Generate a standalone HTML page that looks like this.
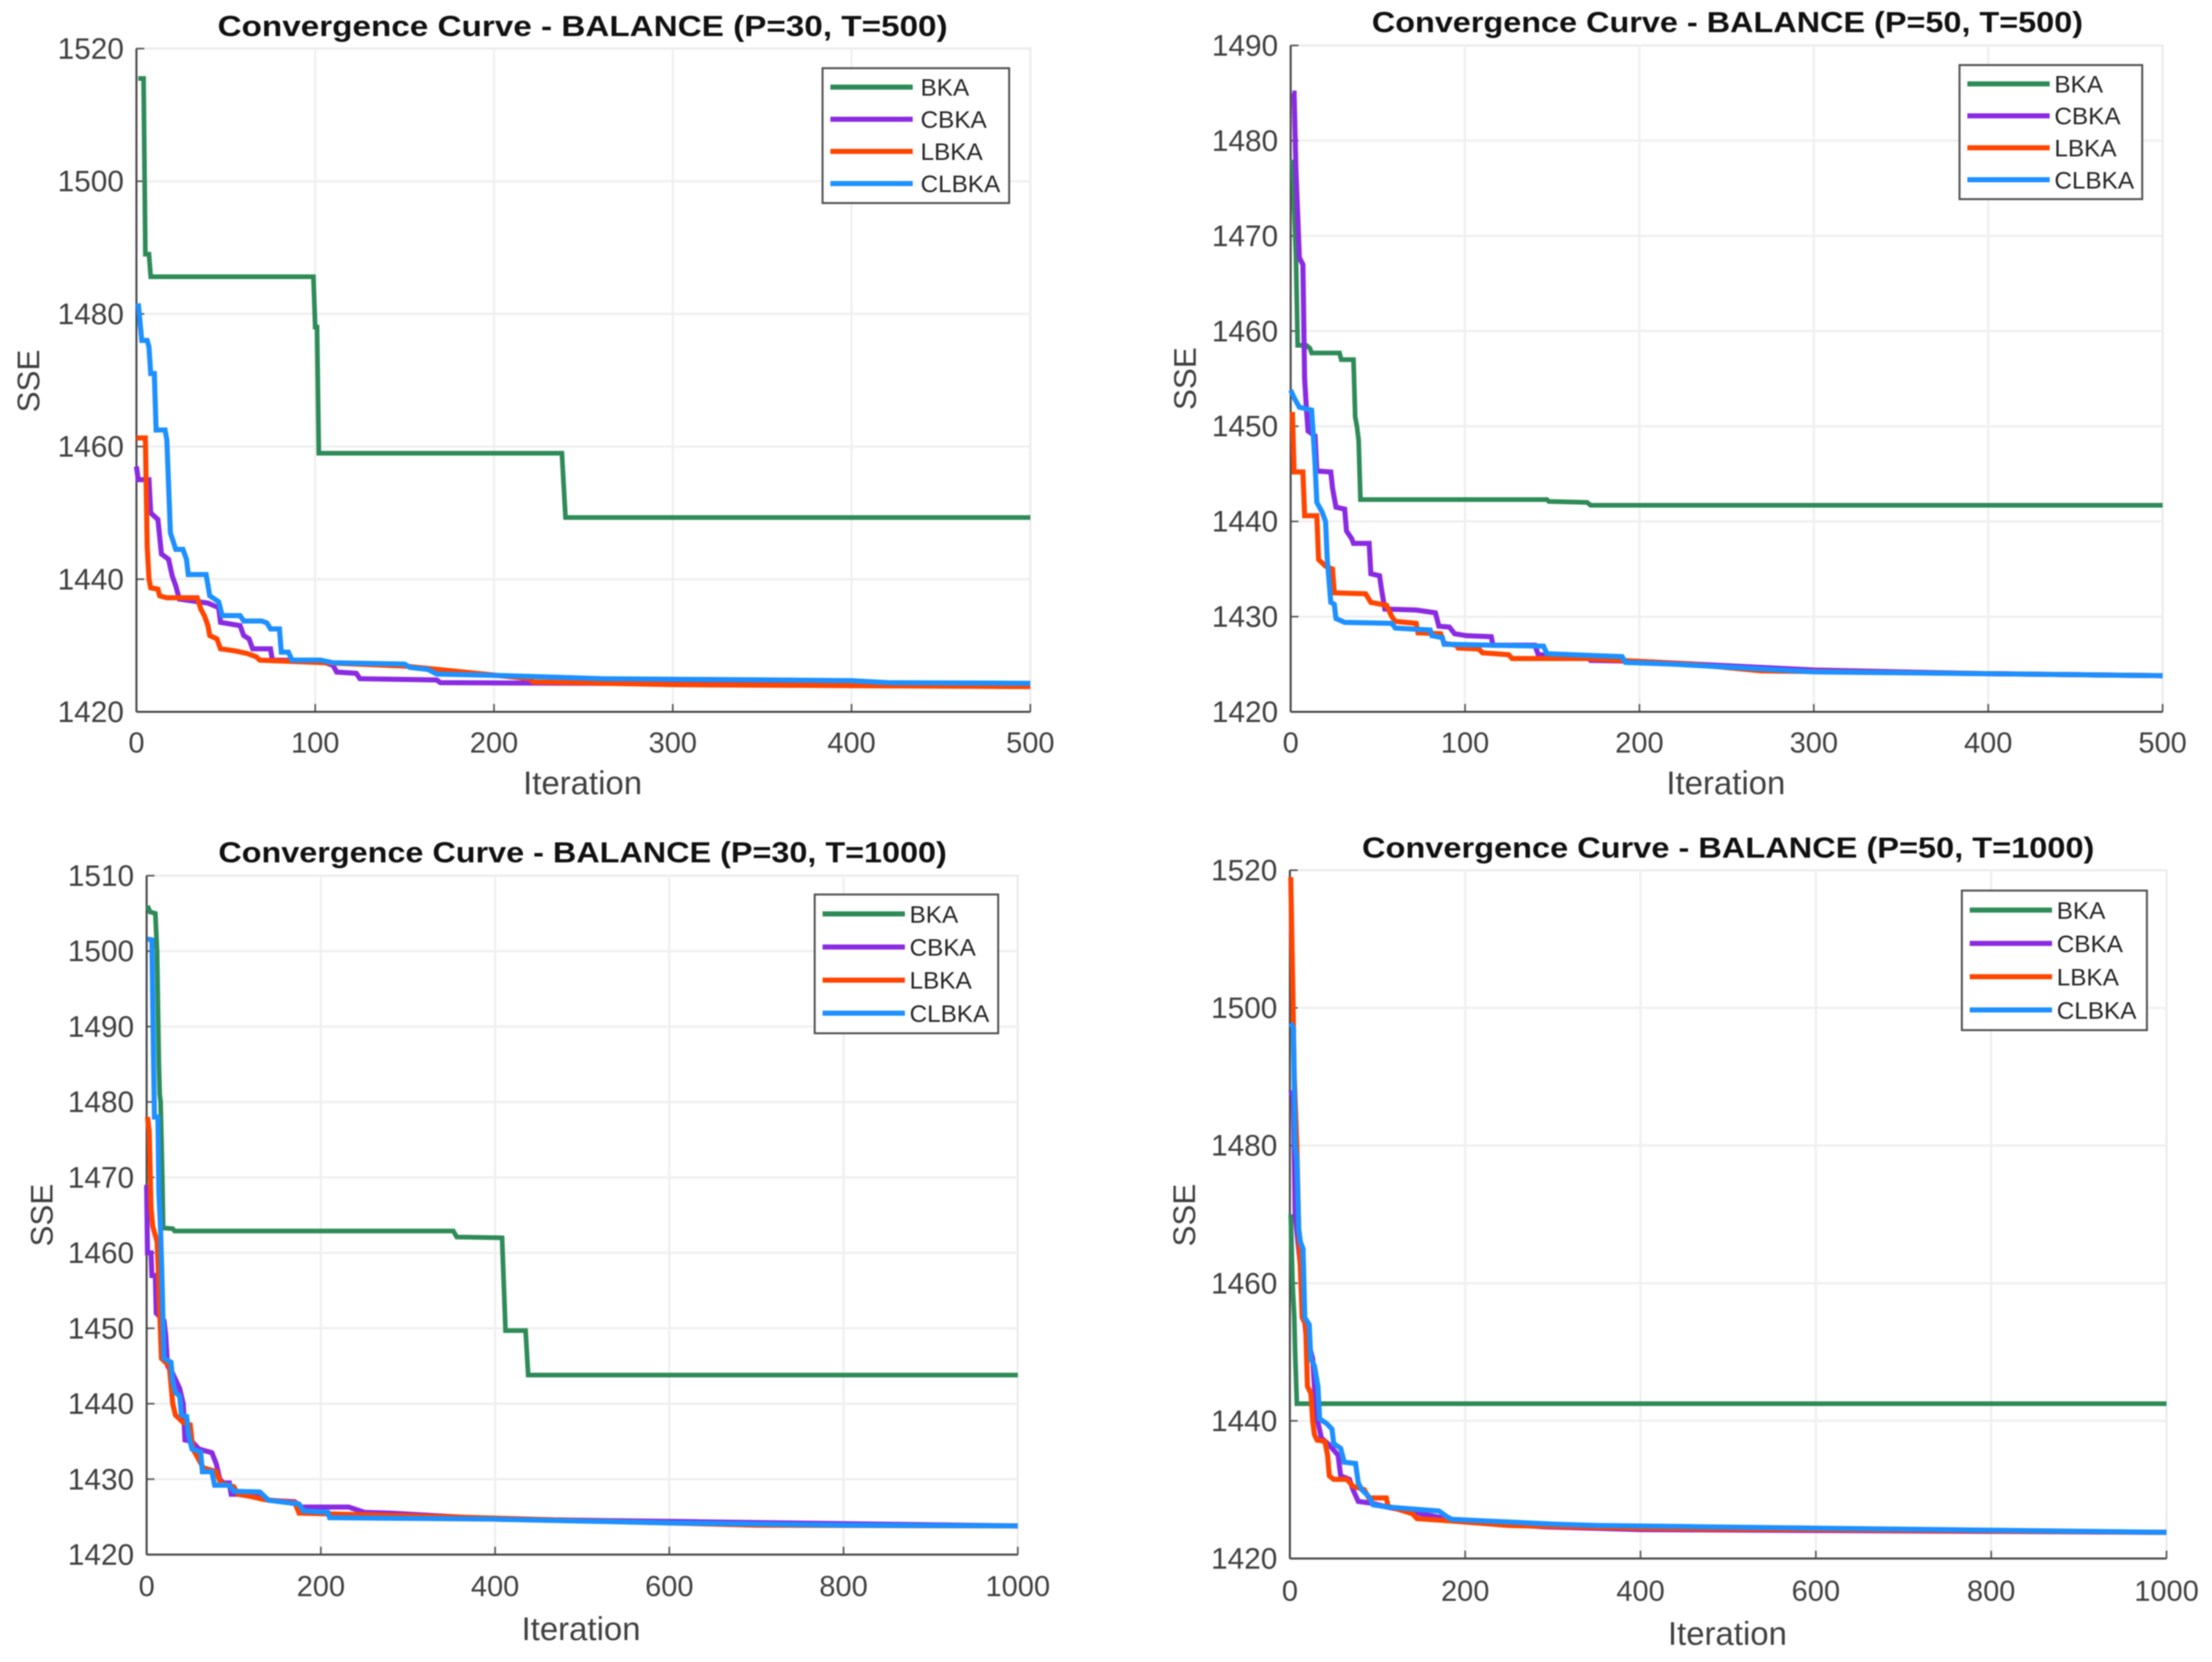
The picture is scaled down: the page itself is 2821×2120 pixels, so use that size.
<!DOCTYPE html>
<html lang="en">
<head>
<meta charset="utf-8">
<title>Convergence Curves - BALANCE</title>
<style>
html,body{margin:0;padding:0;background:#fff;}
#chart{display:block;width:2821px;height:2120px;filter:blur(0.9px);font-family:"Liberation Sans",Arial,sans-serif;}
</style>
</head>
<body>
<svg id="chart" xmlns="http://www.w3.org/2000/svg" width="2821" height="2120" viewBox="0 0 2821 2120"></svg>
<script>
const seriesNames = ['BKA', 'CBKA', 'LBKA', 'CLBKA'];
const seriesColors = ['#2E8B57', '#8A2BE2', '#FF4500', '#1E90FF'];

const xTicks500 = [0, 100, 200, 300, 400, 500];
const xTicks1000 = [0, 200, 400, 600, 800, 1000];
const yTicksA = [1420, 1440, 1460, 1480, 1500, 1520];
const yTicksB = [1420, 1430, 1440, 1450, 1460, 1470, 1480, 1490];
const yTicksC = [1420, 1430, 1440, 1450, 1460, 1470, 1480, 1490, 1500, 1510];

const p1BkaX = [1, 4, 5, 7, 8, 99, 100, 101, 102, 238, 240, 500];
const p1BkaY = [1515.5, 1515.5, 1489, 1489, 1485.6, 1485.6, 1478, 1478, 1459, 1459, 1449.3, 1449.3];
const p1CbkaX = [0, 1, 7, 8, 12, 14, 18, 20, 22, 24, 40, 46, 47, 58, 60, 63, 65, 75, 76, 103, 110, 112, 123, 125, 168, 170, 260, 400, 500];
const p1CbkaY = [1457, 1455, 1455, 1450, 1449, 1443.8, 1443, 1440.5, 1439, 1437, 1436.4, 1435.7, 1433.5, 1433, 1431.5, 1431, 1429.5, 1429.5, 1427.8, 1427.7, 1427, 1426, 1425.8, 1425, 1424.8, 1424.4, 1424.3, 1424.1, 1424];
const p1LbkaX = [0, 5, 6, 7, 8, 12, 13, 17, 34, 36, 38, 40, 41, 45, 47, 55, 62, 67, 69, 150, 220, 222, 300, 500];
const p1LbkaY = [1461.3, 1461.3, 1445, 1440, 1438.7, 1438.5, 1437.5, 1437.2, 1437.2, 1435.5, 1434.5, 1433, 1431.5, 1431, 1429.5, 1429.2, 1428.8, 1428.3, 1427.8, 1426.9, 1425, 1424.5, 1424.1, 1423.8];
const p1ClbkaX = [1, 3, 6, 7, 8, 10, 11, 16, 17, 19, 22, 26, 28, 29, 39, 41, 46, 48, 58, 60, 70, 73, 75, 80, 81, 85, 87, 103, 110, 150, 153, 163, 168, 200, 260, 400, 420, 500];
const p1ClbkaY = [1481.6, 1476, 1476, 1475, 1471, 1471, 1462.5, 1462.5, 1461, 1447, 1444.5, 1444.5, 1443, 1440.7, 1440.7, 1437.5, 1436.6, 1434.5, 1434.5, 1433.7, 1433.7, 1433.4, 1432.5, 1432.5, 1429, 1429, 1427.8, 1427.8, 1427.4, 1427.2, 1426.7, 1426.4, 1425.7, 1425.5, 1425, 1424.7, 1424.4, 1424.3];

const p2BkaX = [1, 3, 4, 9, 11, 12, 28, 29, 36, 37, 38, 39, 40, 147, 148, 170, 172, 500];
const p2BkaY = [1478, 1468, 1458.5, 1458.5, 1458.2, 1457.7, 1457.7, 1457, 1457, 1451, 1450, 1448.5, 1442.3, 1442.3, 1442.1, 1442, 1441.7, 1441.7];
const p2CbkaX = [1, 2, 3, 5, 7, 8, 9, 10, 14, 15, 23, 24, 26, 31, 32, 35, 36, 45, 46, 51, 52, 54, 72, 83, 85, 91, 94, 101, 115, 116, 140, 142, 170, 172, 200, 300, 400, 500];
const p2CbkaY = [1485, 1485, 1477, 1467.7, 1467, 1455, 1452, 1449.5, 1449, 1445.3, 1445.2, 1443.5, 1441.5, 1441.3, 1439, 1438.2, 1437.7, 1437.7, 1434.5, 1434.3, 1433, 1430.8, 1430.7, 1430.4, 1429, 1428.9, 1428.2, 1428, 1427.9, 1427, 1427, 1426, 1425.8, 1425.4, 1425.3, 1424.4, 1424, 1423.8];
const p2LbkaX = [1, 2, 7, 8, 15, 16, 20, 24, 25, 43, 46, 55, 58, 60, 72, 73, 86, 88, 95, 96, 108, 110, 125, 127, 170, 230, 270, 500];
const p2LbkaY = [1451.5, 1445.2, 1445.2, 1440.6, 1440.6, 1436, 1435.3, 1435, 1432.5, 1432.4, 1431.5, 1431.2, 1430, 1429.5, 1429.3, 1428.3, 1428.2, 1427.2, 1427, 1426.7, 1426.6, 1426.2, 1426, 1425.6, 1425.6, 1425, 1424.3, 1423.8];
const p2ClbkaX = [0, 2, 5, 12, 13, 14, 15, 18, 20, 21, 23, 25, 26, 31, 58, 60, 80, 81, 87, 88, 145, 147, 190, 192, 220, 300, 400, 500];
const p2ClbkaY = [1453.8, 1453, 1452, 1451.7, 1449, 1446, 1442, 1441, 1440, 1436, 1431.5, 1431.3, 1429.8, 1429.4, 1429.3, 1428.8, 1428.6, 1428, 1427.8, 1427.1, 1426.9, 1426.1, 1425.8, 1425.2, 1425, 1424.2, 1424, 1423.8];

const p3BkaX = [1, 4, 10, 12, 14, 15, 16, 18, 19, 30, 32, 352, 356, 408, 412, 435, 438, 1000];
const p3BkaY = [1506, 1505.2, 1505, 1500, 1485, 1481, 1480, 1470, 1463.3, 1463.2, 1462.9, 1462.9, 1462.1, 1462, 1449.7, 1449.7, 1443.8, 1443.8];
const p3CbkaX = [0, 1, 5, 6, 10, 11, 20, 22, 24, 30, 34, 38, 42, 44, 52, 60, 66, 75, 80, 84, 88, 95, 97, 130, 140, 170, 178, 232, 250, 280, 400, 1000];
const p3CbkaY = [1469, 1460, 1460, 1457, 1457, 1452, 1451, 1449, 1445, 1444, 1443, 1442, 1440, 1435.2, 1435, 1434, 1433.8, 1433.5, 1432, 1430, 1429.5, 1429.5, 1428, 1428, 1427.2, 1427, 1426.3, 1426.3, 1425.6, 1425.5, 1424.7, 1423.8];
const p3LbkaX = [1, 3, 5, 7, 12, 14, 15, 17, 26, 30, 33, 42, 50, 53, 58, 65, 80, 85, 100, 105, 120, 135, 170, 175, 350, 500, 700, 1000];
const p3LbkaY = [1478, 1476, 1466, 1463.5, 1461.5, 1456, 1452, 1446, 1445, 1440, 1438.5, 1437.5, 1437.2, 1434, 1433, 1431.5, 1431, 1429.5, 1429, 1428, 1427.7, 1427.3, 1426.9, 1425.5, 1425, 1424.5, 1423.9, 1423.8];
const p3ClbkaX = [1, 6, 8, 9, 13, 14, 16, 18, 19, 20, 28, 30, 33, 38, 40, 46, 48, 52, 62, 64, 75, 78, 95, 100, 130, 140, 175, 180, 208, 210, 400, 600, 800, 1000];
const p3ClbkaY = [1501.6, 1501.5, 1485, 1478, 1478, 1468, 1463, 1455, 1450, 1446, 1445.5, 1443, 1441.5, 1441, 1438.5, 1438.3, 1436, 1434, 1433.6, 1431, 1431, 1429.2, 1429.2, 1428.4, 1428.3, 1427.2, 1426.7, 1425.8, 1425.6, 1424.9, 1424.7, 1424.2, 1423.9, 1423.8];

const p4BkaX = [1, 3, 5, 6, 8, 1000];
const p4BkaY = [1470, 1460, 1455, 1450, 1442.5, 1442.5];
const p4CbkaX = [1, 4, 6, 10, 14, 16, 18, 22, 26, 28, 30, 36, 45, 55, 58, 68, 72, 78, 95, 110, 150, 190, 290, 400, 1000];
const p4CbkaY = [1488, 1487, 1470, 1465, 1460, 1456, 1453, 1451, 1449, 1445, 1441, 1437.5, 1436.5, 1435, 1432, 1431.5, 1430, 1428.3, 1428, 1427.5, 1426.5, 1425.5, 1424.6, 1424.2, 1423.8];
const p4LbkaX = [1, 3, 5, 8, 10, 12, 14, 18, 20, 24, 26, 28, 31, 40, 43, 45, 50, 65, 72, 85, 90, 110, 112, 140, 145, 180, 250, 400, 1000];
const p4LbkaY = [1519, 1505, 1490, 1480, 1468, 1462, 1455, 1454, 1445, 1444, 1440, 1438, 1437.2, 1437, 1435, 1432, 1431.5, 1431.5, 1430.5, 1430, 1428.8, 1428.8, 1427.6, 1426.5, 1425.8, 1425.5, 1424.8, 1424.4, 1423.8];
const p4ClbkaX = [1, 4, 6, 8, 10, 12, 15, 17, 22, 24, 28, 32, 34, 42, 48, 50, 58, 62, 75, 78, 82, 90, 95, 110, 170, 180, 185, 300, 350, 1000];
const p4ClbkaY = [1497.8, 1497, 1480, 1478, 1468, 1466, 1465, 1455, 1454, 1449, 1448, 1445, 1440.3, 1439.6, 1438.8, 1436.7, 1436, 1434, 1433.8, 1431, 1430, 1429, 1427.8, 1427.5, 1426.9, 1426, 1425.7, 1425, 1424.8, 1423.8];

const panels = [
  { key: 'p30-t500', title: 'Convergence Curve - BALANCE (P=30, T=500)', titleX: 743, titleY: 46, titleLen: 931,
    left: 174, right: 1314, top: 62, bottom: 908, xMax: 500, yMin: 1420, yMax: 1520, xTicks: xTicks500, yTicks: yTicksA,
    xTickY: 960, xLabelX: 743, xLabelY: 1013, yLabelX: 50, yLabelY: 486, legend: [1049, 87, 238, 172], legendText: 125,
    xs: [p1BkaX, p1CbkaX, p1LbkaX, p1ClbkaX], ys: [p1BkaY, p1CbkaY, p1LbkaY, p1ClbkaY] },
  { key: 'p50-t500', title: 'Convergence Curve - BALANCE (P=50, T=500)', titleX: 2203, titleY: 41, titleLen: 907,
    left: 1646, right: 2758, top: 58, bottom: 908, xMax: 500, yMin: 1420, yMax: 1490, xTicks: xTicks500, yTicks: yTicksB,
    xTickY: 960, xLabelX: 2201, xLabelY: 1013, yLabelX: 1525, yLabelY: 483, legend: [2499, 83, 233, 171], legendText: 121,
    xs: [p2BkaX, p2CbkaX, p2LbkaX, p2ClbkaX], ys: [p2BkaY, p2CbkaY, p2LbkaY, p2ClbkaY] },
  { key: 'p30-t1000', title: 'Convergence Curve - BALANCE (P=30, T=1000)', titleX: 743, titleY: 1100, titleLen: 929,
    left: 187, right: 1298, top: 1117, bottom: 1983, xMax: 1000, yMin: 1420, yMax: 1510, xTicks: xTicks1000, yTicks: yTicksC,
    xTickY: 2036, xLabelX: 741, xLabelY: 2092, yLabelX: 67, yLabelY: 1550, legend: [1039, 1141, 234, 177], legendText: 121,
    xs: [p3BkaX, p3CbkaX, p3LbkaX, p3ClbkaX], ys: [p3BkaY, p3CbkaY, p3LbkaY, p3ClbkaY] },
  { key: 'p50-t1000', title: 'Convergence Curve - BALANCE (P=50, T=1000)', titleX: 2204, titleY: 1094, titleLen: 934,
    left: 1645, right: 2763, top: 1110, bottom: 1988, xMax: 1000, yMin: 1420, yMax: 1520, xTicks: xTicks1000, yTicks: yTicksA,
    xTickY: 2042, xLabelX: 2203, xLabelY: 2098, yLabelX: 1524, yLabelY: 1550, legend: [2502, 1136, 236, 178], legendText: 121,
    xs: [p4BkaX, p4CbkaX, p4LbkaX, p4ClbkaX], ys: [p4BkaY, p4CbkaY, p4LbkaY, p4ClbkaY] }
];

const NS = 'http://www.w3.org/2000/svg';
const root = document.getElementById('chart');

function shape(parent, tag, attrs, content) {
  const el = document.createElementNS(NS, tag);
  for (const k in attrs) el.setAttribute(k, attrs[k]);
  if (content !== undefined) el.textContent = content;
  parent.appendChild(el);
  return el;
}

panels.forEach(function (p) {
  const sx = function (v) { return p.left + (v / p.xMax) * (p.right - p.left); };
  const sy = function (v) { return p.bottom - ((v - p.yMin) / (p.yMax - p.yMin)) * (p.bottom - p.top); };

  const g = shape(root, 'g', {});
  
  

  const plotBg = shape(g, 'rect', { x: p.left, y: p.top, width: p.right - p.left, height: p.bottom - p.top, fill: '#fff', stroke: '#ededed', 'stroke-width': 3 });
  
  

  p.xTicks.forEach(function (t) {
    const x = sx(t);
    if (t !== 0 && t !== p.xMax) {
      const grid = shape(g, 'line', { x1: x, x2: x, y1: p.top, y2: p.bottom, stroke: '#f0f0f0', 'stroke-width': 3 });
      
      
    }
    const tick = shape(g, 'line', { x1: x, x2: x, y1: p.bottom, y2: p.bottom - 10, stroke: '#555', 'stroke-width': 2 });
    
    
    const label = shape(g, 'text', { x: x, y: p.xTickY, 'text-anchor': 'middle', 'font-size': 37, fill: '#404040' }, String(t));
    
    
  });

  p.yTicks.forEach(function (t) {
    const y = sy(t);
    if (t !== p.yMin && t !== p.yMax) {
      const grid = shape(g, 'line', { x1: p.left, x2: p.right, y1: y, y2: y, stroke: '#f0f0f0', 'stroke-width': 3 });
      
      
    }
    const tick = shape(g, 'line', { x1: p.left, x2: p.left + 10, y1: y, y2: y, stroke: '#555', 'stroke-width': 2 });
    
    
    const label = shape(g, 'text', { x: p.left - 16, y: y + 13, 'text-anchor': 'end', 'font-size': 38, fill: '#404040' }, String(t));
    
    
  });

  const xAxis = shape(g, 'line', { x1: p.left, x2: p.right, y1: p.bottom, y2: p.bottom, stroke: '#444', 'stroke-width': 2.5 });
  
  
  const yAxis = shape(g, 'line', { x1: p.left, x2: p.left, y1: p.top, y2: p.bottom, stroke: '#444', 'stroke-width': 2.5 });
  
  

  seriesNames.forEach(function (name, i) {
    const pts = p.xs[i].map(function (x, j) { return sx(x).toFixed(1) + ',' + sy(p.ys[i][j]).toFixed(1); }).join(' ');
    const line = shape(g, 'polyline', { points: pts, fill: 'none', stroke: seriesColors[i], 'stroke-width': i === 0 ? 6 : 6.5, 'stroke-linejoin': 'miter' });
    
    
  });

  const title = shape(g, 'text', { x: p.titleX, y: p.titleY, 'text-anchor': 'middle', 'font-size': 37, 'font-weight': 'bold', fill: '#111', textLength: p.titleLen, lengthAdjust: 'spacingAndGlyphs' }, p.title);
  
  

  const xLabel = shape(g, 'text', { x: p.xLabelX, y: p.xLabelY, 'text-anchor': 'middle', 'font-size': 42, fill: '#404040' }, 'Iteration');
  
  

  const yLabel = shape(g, 'text', { x: p.yLabelX, y: p.yLabelY, 'text-anchor': 'middle', 'font-size': 40, fill: '#404040', transform: 'rotate(-90 ' + p.yLabelX + ' ' + p.yLabelY + ')' }, 'SSE');
  
  

  const lx = p.legend[0], ly = p.legend[1], lw = p.legend[2], lh = p.legend[3];
  const legend = shape(g, 'g', {});
  
  
  const box = shape(legend, 'rect', { x: lx, y: ly, width: lw, height: lh, fill: '#fff', stroke: '#505050', 'stroke-width': 2.5 });
  
  
  seriesNames.forEach(function (name, i) {
    const rowY = ly + lh * (0.14 + i * 0.2385);
    const sample = shape(legend, 'line', { x1: lx + 10, x2: lx + 115, y1: rowY, y2: rowY, stroke: seriesColors[i], 'stroke-width': 6.5 });
    
    
    const text = shape(legend, 'text', { x: lx + p.legendText, y: rowY + 11, 'font-size': 31, fill: '#262626' }, name);
    
    
  });
});
</script>
</body>
</html>
